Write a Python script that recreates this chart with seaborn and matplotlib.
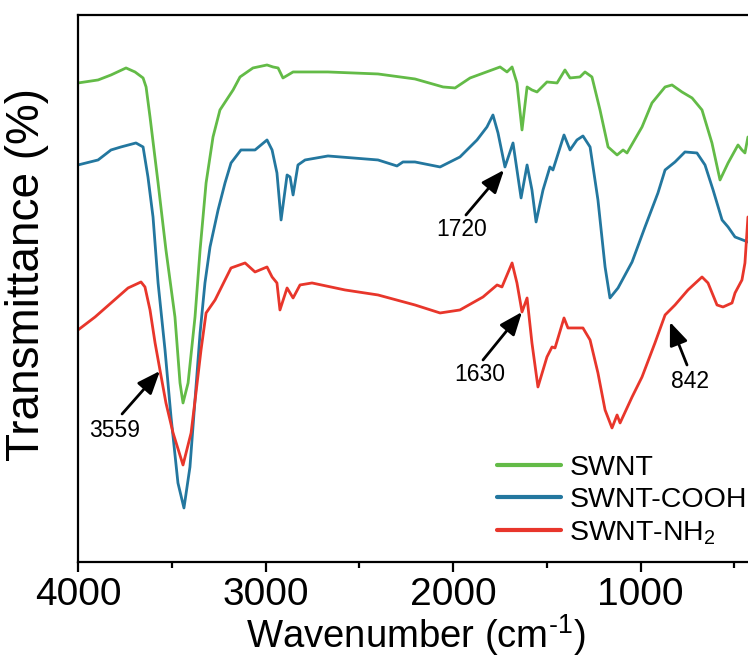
import numpy as np
import pandas as pd
import matplotlib
matplotlib.use("Agg")
import matplotlib.pyplot as plt
import seaborn as sns

# ---------------- data ----------------
swnt_wn = [4000, 3893, 3824, 3744, 3696, 3653, 3637, 3616, 3573, 3531, 3483, 3456, 3440,
           3413, 3376, 3349, 3317, 3280, 3243, 3173, 3136, 3067, 2992, 2960, 2933, 2907,
           2853, 2816, 2667, 2400, 2203, 2053, 1989, 1909, 1749, 1712, 1685, 1659, 1632,
           1605, 1579, 1552, 1499, 1445, 1403, 1376, 1323, 1296, 1259, 1216, 1173, 1125,
           1093, 1072, 992, 939, 869, 832, 779, 725, 672, 619, 576, 533, 480, 459, 443, 427]
swnt_t = [95.8, 96.4, 97.4, 98.8, 98.0, 96.8, 95.0, 89.0, 75.8, 62.4, 49.0, 35.8, 31.8,
          35.8, 49.0, 62.4, 75.8, 85.0, 90.4, 94.4, 97.0, 98.8, 99.4, 99.0, 98.8, 96.8,
          98.0, 98.0, 98.0, 97.6, 96.6, 95.0, 94.8, 96.8, 99.0, 98.0, 99.0, 95.8, 86.4,
          95.0, 94.4, 94.0, 96.0, 95.8, 98.4, 96.8, 97.0, 98.0, 97.0, 90.4, 83.0, 81.4,
          82.4, 81.8, 87.0, 91.8, 95.0, 95.4, 94.0, 92.8, 90.4, 83.8, 76.4, 79.8, 83.4,
          82.4, 81.8, 85.0]

cooh_wn = [4000, 3893, 3824, 3771, 3691, 3653, 3627, 3600, 3573, 3536, 3504, 3467, 3435,
           3403, 3376, 3349, 3323, 3296, 3253, 3216, 3184, 3131, 3056, 2992, 2965, 2939,
           2917, 2885, 2869, 2853, 2827, 2789, 2667, 2400, 2299, 2267, 2203, 2069, 1963,
           1872, 1819, 1787, 1760, 1723, 1680, 1637, 1605, 1579, 1557, 1520, 1483, 1467,
           1408, 1376, 1339, 1307, 1269, 1227, 1189, 1163, 1120, 1045, 976, 907, 869, 816,
           763, 699, 656, 613, 565, 533, 496, 427]
cooh_t = [79.4, 80.4, 82.4, 83.0, 83.8, 83.0, 77.0, 69.0, 55.8, 42.4, 29.0, 15.8, 10.8,
          19.0, 32.4, 45.8, 55.8, 63.0, 70.4, 75.8, 79.8, 82.4, 82.4, 84.4, 82.4, 77.8,
          68.4, 77.4, 77.0, 73.4, 79.4, 80.4, 81.2, 80.4, 79.2, 80.0, 80.0, 79.0, 81.0,
          84.4, 87.0, 89.4, 85.8, 79.0, 83.8, 72.8, 79.4, 74.4, 68.0, 74.4, 79.0, 78.4,
          85.4, 82.4, 84.4, 85.2, 83.0, 72.4, 59.0, 52.8, 54.8, 60.0, 67.0, 73.8, 78.4,
          80.0, 82.0, 81.8, 79.4, 74.4, 68.4, 67.0, 65.0, 64.0]

nh2_wn = [4000, 3909, 3824, 3733, 3664, 3643, 3616, 3589, 3563, 3531, 3493, 3440, 3397,
          3371, 3344, 3317, 3269, 3216, 3184, 3109, 3056, 2992, 2965, 2939, 2923, 2885,
          2853, 2816, 2752, 2576, 2400, 2203, 2069, 1963, 1840, 1765, 1739, 1685, 1659,
          1632, 1605, 1579, 1547, 1499, 1472, 1456, 1408, 1387, 1307, 1269, 1227, 1189,
          1152, 1125, 1109, 1045, 992, 923, 869, 816, 747, 672, 640, 592, 560, 512, 496,
          459, 443, 427]
nh2_t = [46.4, 49.0, 51.8, 54.8, 56.0, 55.0, 50.4, 43.8, 38.4, 31.8, 25.8, 19.4, 25.8,
         33.8, 42.4, 49.8, 52.4, 56.4, 58.8, 59.8, 58.0, 59.0, 57.0, 55.8, 50.4, 54.8,
         52.8, 55.4, 55.8, 54.4, 53.4, 51.4, 49.8, 50.4, 53.0, 55.4, 55.0, 59.8, 55.8,
         50.0, 52.8, 43.8, 35.0, 41.0, 43.0, 42.8, 48.8, 46.8, 46.8, 44.4, 37.8, 30.4,
         26.8, 29.4, 27.8, 33.0, 37.0, 43.8, 49.4, 51.4, 54.4, 57.0, 55.8, 51.4, 51.0,
         51.8, 53.8, 56.4, 59.8, 69.0]

series_names = ["SWNT", "SWNT-COOH", "SWNT-NH$_2$"]
series_colors = ["#63bb47", "#23779f", "#e8362b"]

# annotations: label, arrow tip (wn, T), arrow tail (wn, T), label position (wn, T)
ann_labels = ["3559", "1720", "1630", "842"]
ann_tip = [(3563, 38.2), (1728, 78.4), (1632, 50.0), (843, 48.0)]
ann_tail = [(3765, 29.6), (1931, 69.4), (1840, 40.4), (752, 39.4)]
ann_text = [(3803, 26.2), (1952, 66.4), (1856, 37.4), (736, 36.0)]

major_ticks = [4000, 3000, 2000, 1000]
minor_ticks = [3500, 2500, 1500, 500]

# ---------------- build long-form table ----------------
frames = []
for name, wn, t in zip(series_names, [swnt_wn, cooh_wn, nh2_wn], [swnt_t, cooh_t, nh2_t]):
    frames.append(pd.DataFrame({"wn": wn, "T": t, "sample": name}))
df = pd.concat(frames, ignore_index=True)

sns.set_style("ticks")
plt.rcParams["font.family"] = ["Liberation Sans", "DejaVu Sans"]
plt.rcParams["mathtext.fontset"] = "custom"
plt.rcParams["mathtext.rm"] = "Liberation Sans"
plt.rcParams["mathtext.it"] = "Liberation Sans:italic"
plt.rcParams["mathtext.default"] = "regular"
plt.rcParams["text.color"] = "black"
plt.rcParams["axes.labelcolor"] = "black"
plt.rcParams["xtick.color"] = "black"
plt.rcParams["ytick.color"] = "black"

fig = plt.figure(figsize=(7.48, 6.62), dpi=100)
ax = fig.add_axes([0.1043, 0.1511, 0.9024, 0.8263])

sns.lineplot(data=df, x="wn", y="T", hue="sample", hue_order=series_names,
             palette=dict(zip(series_names, series_colors)), estimator=None,
             linewidth=2.0, ax=ax)

ax.set_xlim(4000, 400)
ax.set_ylim(0, 109.4)
ax.set_xticks(major_ticks)
ax.set_xticks(minor_ticks, minor=True)
ax.set_yticks([])

for sp in ax.spines.values():
    sp.set_linewidth(1.6)
    sp.set_color("black")

ax.tick_params(axis="x", which="major", direction="out", length=7, width=1.6,
               labelsize=28, pad=4, top=False, labelcolor="black")
ax.tick_params(axis="x", which="minor", direction="out", length=4.5, width=1.6, top=False)

ax.set_xlabel("Wavenumber (cm$^{\\text{-1}}$)", fontsize=27.5, labelpad=-1)
ax.set_ylabel("Transmittance (%)", fontsize=33)
ax.yaxis.set_label_coords(-0.043, 0.525)

for lab, tip, tail, pos in zip(ann_labels, ann_tip, ann_tail, ann_text):
    ax.annotate("", xy=tip, xytext=tail,
                arrowprops=dict(arrowstyle="-|>,head_length=0.7,head_width=0.28",
                                color="black", lw=2.0, mutation_scale=20,
                                shrinkA=0, shrinkB=0))
    ax.text(pos[0], pos[1], lab, fontsize=16.5, ha="center", va="center", color="black")

leg = ax.legend(loc="upper left", bbox_to_anchor=(0.621, 0.196), frameon=False,
                fontsize=20.5, handlelength=2.25, handletextpad=0.28, borderpad=0,
                borderaxespad=0, labelspacing=0.22)
for line in leg.get_lines():
    line.set_linewidth(3.0)

fig.savefig("out.png", dpi=100)
